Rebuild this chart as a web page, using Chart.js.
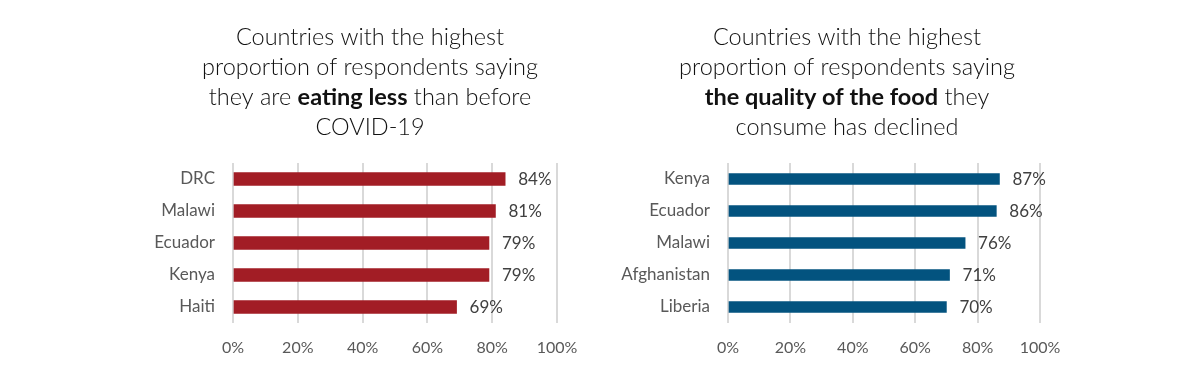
<!DOCTYPE html>
<html>
<head>
<meta charset="utf-8">
<script src="https://cdn.jsdelivr.net/npm/chart.js@4/dist/chart.umd.min.js"></script>
<style>
  body { margin: 0; background: #fff; }
  #wrap { position: relative; width: 1200px; height: 372px; }
  canvas { position: absolute; top: 0; }
</style>
</head>
<body>
<div id="wrap">
  <canvas id="left" width="600" height="372" style="left:0"></canvas>
  <canvas id="right" width="600" height="372" style="left:600px"></canvas>
</div>
<script>
// Data for both panels
const lessCountries = ['DRC', 'Malawi', 'Ecuador', 'Kenya', 'Haiti'];
const lessValues = [84, 81, 79, 79, 69];

const qualityCountries = ['Kenya', 'Ecuador', 'Malawi', 'Afghanistan', 'Liberia'];
const qualityValues = [87, 86, 76, 71, 70];

const xTicks = [0, 20, 40, 60, 80, 100];

// Titles: each line is a list of [text, bold]
const lessTitle = [
  [['Countries with the highest', false]],
  [['proportion of respondents saying', false]],
  [['they are ', false], ['eating less', true], [' than before', false]],
  [['COVID-19', false]]
];
const qualityTitle = [
  [['Countries with the highest', false]],
  [['proportion of respondents saying', false]],
  [['the quality of the food', true], [' they', false]],
  [['consume has declined', false]]
];

const FONT = 'Lato, "Open Sans", sans-serif';

// Draws the multi-line title with partly bold text
const richTitle = {
  id: 'richTitle',
  afterDraw(chart, args, opts) {
    const ctx = chart.ctx;
    ctx.save();
    ctx.fillStyle = '#111';
    ctx.textBaseline = 'alphabetic';
    ctx.textAlign = 'left';
    const fontOf = (b) => (b ? 'bold ' : '300 ') + opts.size + 'px ' + FONT;
    opts.lines.forEach((line, i) => {
      let total = 0;
      line.forEach(([t, b]) => {
        ctx.font = fontOf(b);
        total += ctx.measureText(t).width;
      });
      let x = opts.centerX - total / 2;
      const y = opts.top + i * opts.lineHeight;
      line.forEach(([t, b]) => {
        ctx.font = fontOf(b);
        ctx.fillText(t, x, y);
        x += ctx.measureText(t).width;
      });
    });
    ctx.restore();
  }
};

// Value labels at the end of each bar
const valueLabels = {
  id: 'valueLabels',
  afterDatasetsDraw(chart) {
    const ctx = chart.ctx;
    const ds = chart.data.datasets[0];
    ctx.save();
    ctx.font = '17px ' + FONT;
    ctx.fillStyle = '#404040';
    ctx.textAlign = 'left';
    ctx.textBaseline = 'middle';
    chart.getDatasetMeta(0).data.forEach((bar, i) => {
      ctx.fillText(ds.data[i] + '%', bar.x + 13, bar.y + 1);
    });
    ctx.restore();
  }
};

function makeChart(id, labels, values, color, thickness, yWidth, padRight, title, titleX) {
  return new Chart(document.getElementById(id), {
    type: 'bar',
    data: {
      labels: labels,
      datasets: [{
        data: values,
        backgroundColor: color,
        barThickness: thickness
      }]
    },
    options: {
      indexAxis: 'y',
      responsive: false,
      animation: false,
      layout: { padding: { top: 163, right: padRight, left: 0, bottom: 0 } },
      plugins: {
        legend: { display: false },
        tooltip: { enabled: false },
        title: { display: false },
        richTitle: { lines: title, centerX: titleX, top: 45, lineHeight: 30, size: 23.5 }
      },
      scales: {
        x: {
          min: 0,
          max: 100,
          afterBuildTicks: (scale) => { scale.ticks = xTicks.map(v => ({ value: v })); },
          afterFit: (scale) => { scale.height = 49; },
          grid: { color: '#d9d9d9', lineWidth: 2, drawTicks: false },
          border: { display: false },
          ticks: {
            padding: 15,
            color: '#595959',
            font: { family: FONT, size: 16 },
            callback: (v) => v + '%'
          }
        },
        y: {
          afterFit: (scale) => { scale.width = yWidth; },
          grid: { display: false, drawTicks: false },
          border: { display: false },
          ticks: {
            padding: 18,
            color: '#595959',
            font: { family: FONT, size: 17 }
          }
        }
      }
    },
    plugins: [richTitle, valueLabels]
  });
}

makeChart('left', lessCountries, lessValues, '#a21d25', 13, 233, 43, lessTitle, 370);
makeChart('right', qualityCountries, qualityValues, '#03537f', 11, 128, 160, qualityTitle, 247);
</script>
</body>
</html>
